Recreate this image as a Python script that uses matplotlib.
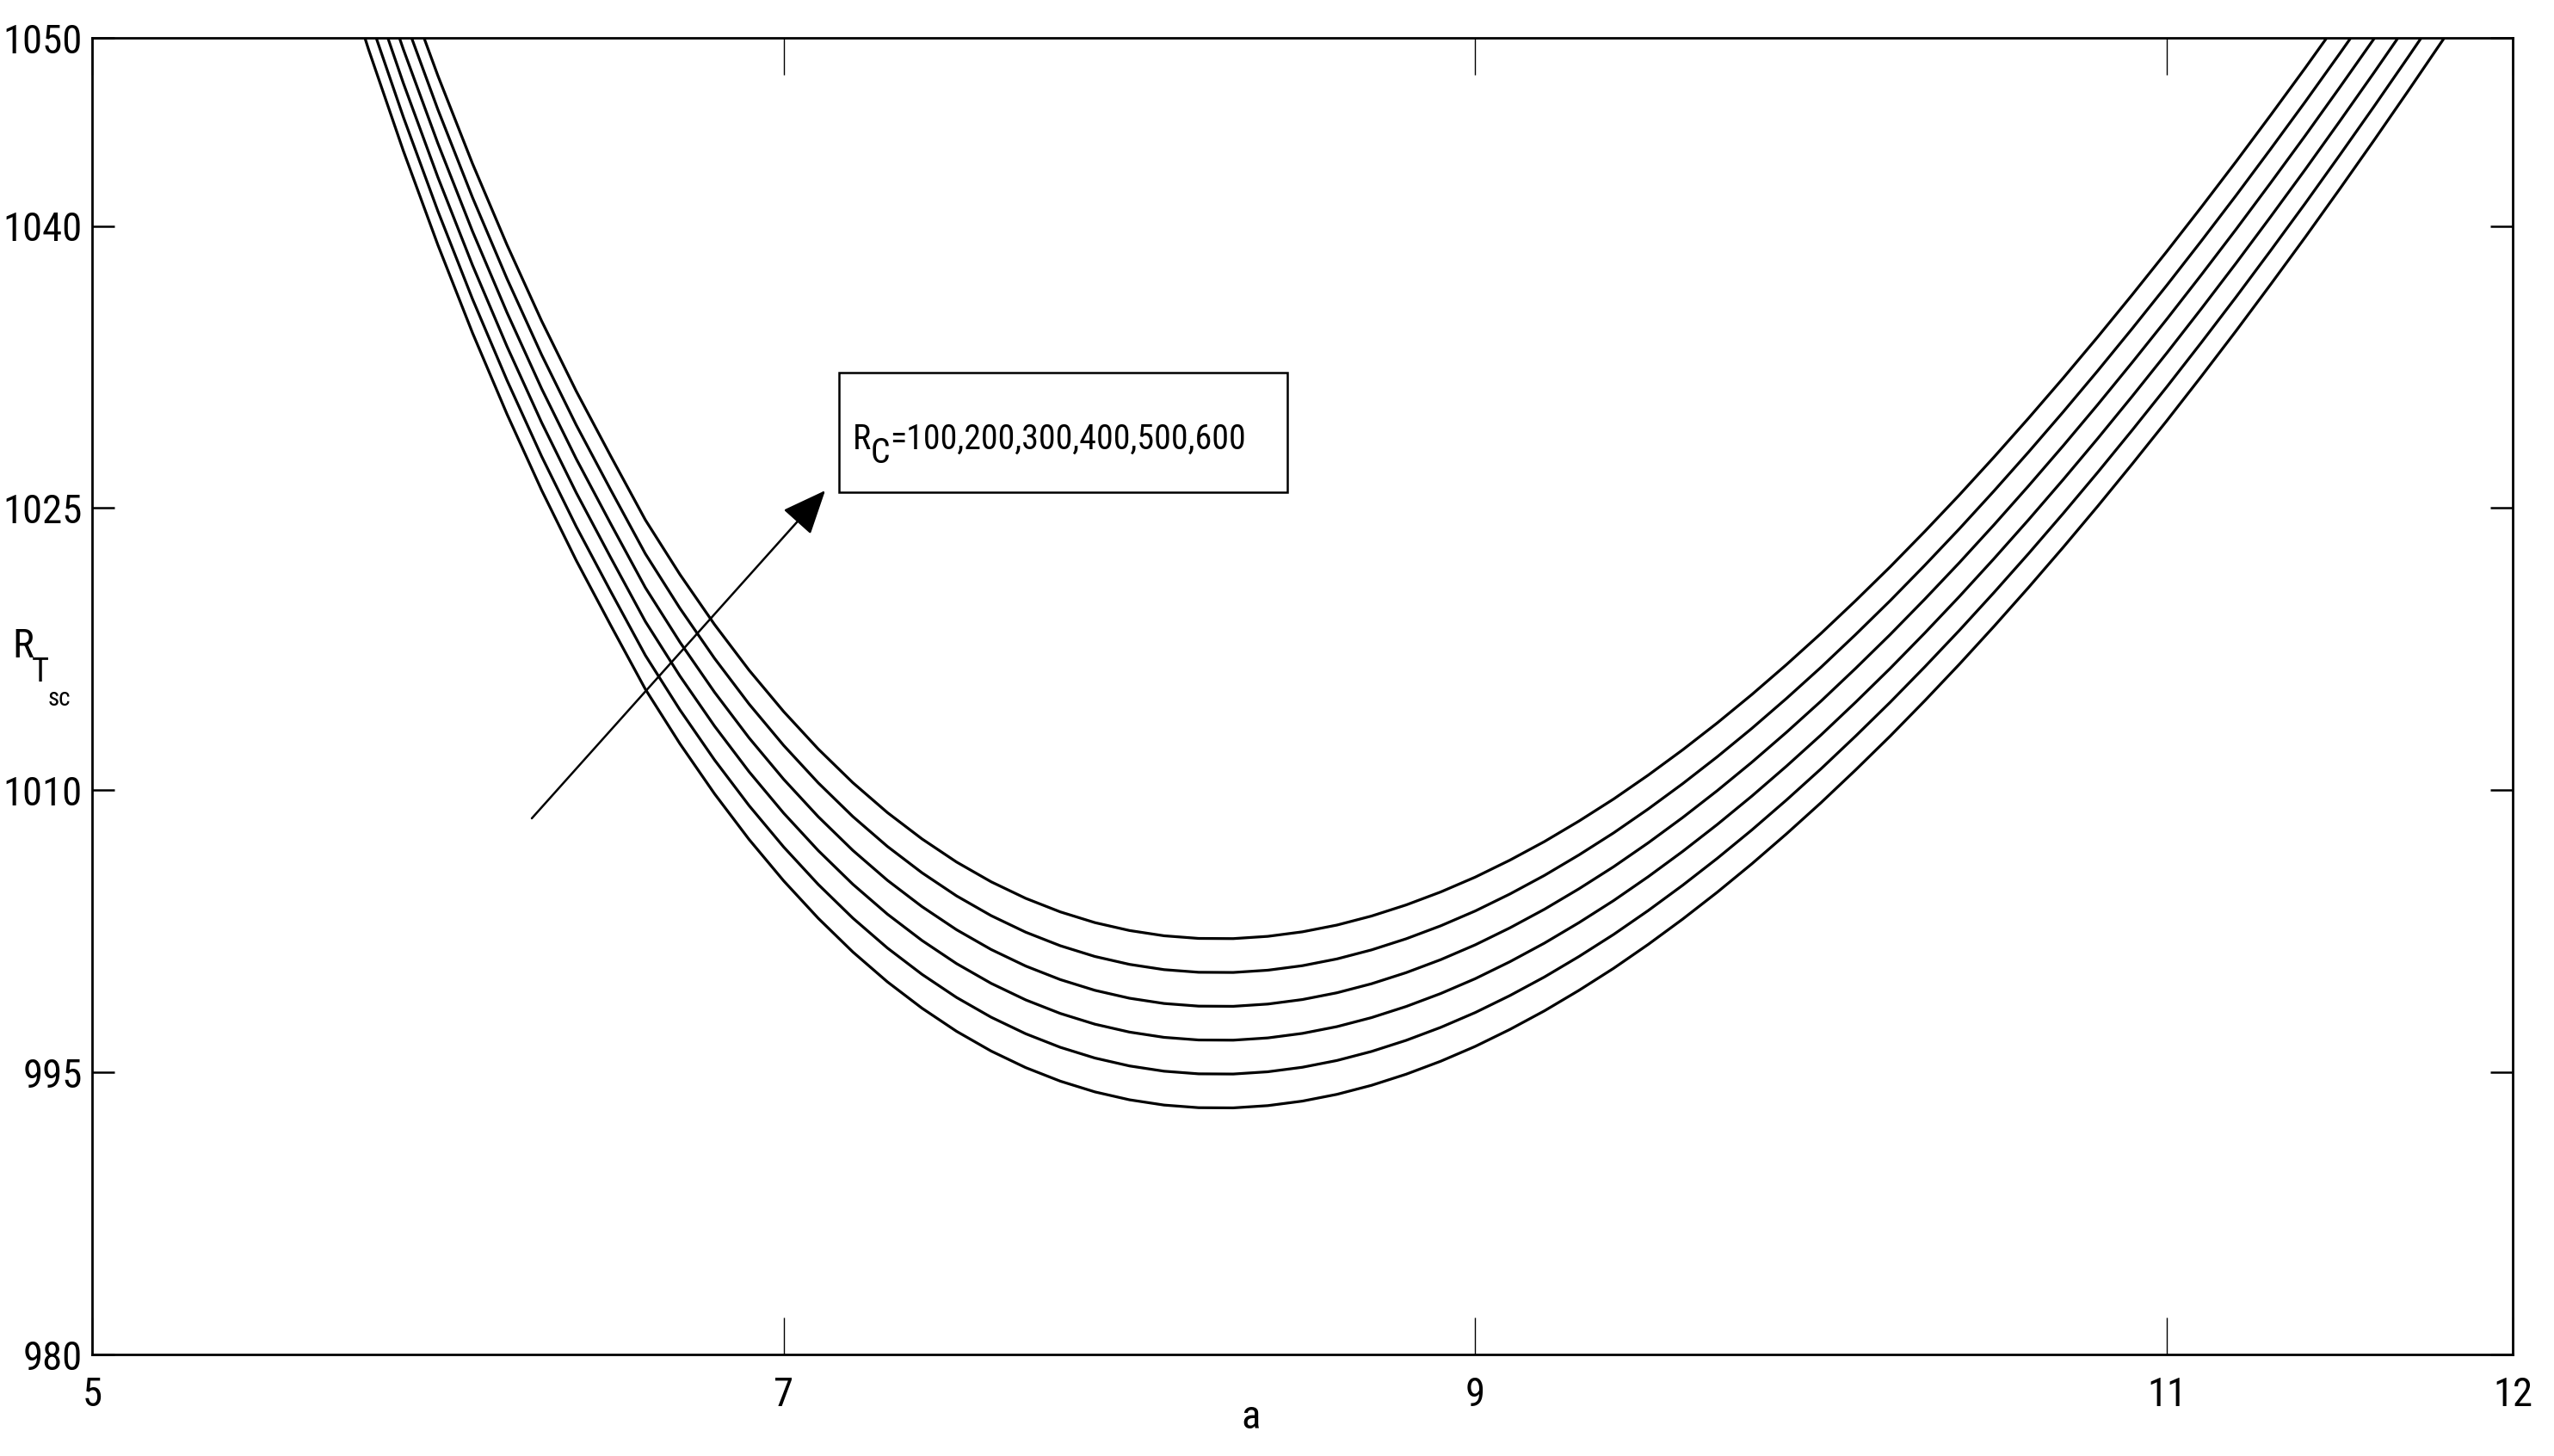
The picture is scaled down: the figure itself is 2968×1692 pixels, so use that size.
import os
import matplotlib
matplotlib.use("Agg")
import matplotlib.pyplot as plt
from matplotlib import font_manager as fm
from matplotlib.textpath import TextPath
from matplotlib.patches import Rectangle, FancyArrowPatch, ArrowStyle

# values (a on x, R_Tsc on y), one list per R_C
a_vals = [5.7, 5.8, 5.9, 6.0, 6.1, 6.2, 6.3, 6.4, 6.5, 6.6, 6.7, 6.8, 6.9, 7.0, 7.1, 7.2,
          7.3, 7.4, 7.5, 7.6, 7.7, 7.8, 7.9, 8.0, 8.1, 8.2, 8.3, 8.4, 8.5, 8.6, 8.7, 8.8,
          8.9, 9.0, 9.1, 9.2, 9.3, 9.4, 9.5, 9.6, 9.7, 9.8, 9.9, 10.0, 10.1, 10.2, 10.3,
          10.4, 10.5, 10.6, 10.7, 10.8, 10.9, 11.0, 11.1, 11.2, 11.3, 11.4, 11.5, 11.6,
          11.7, 11.8, 11.9]

rt_rc100 = [1055.11, 1049.36, 1044.00, 1038.99, 1034.32, 1029.99, 1025.95, 1022.22, 1018.76,
            1015.37, 1012.47, 1009.81, 1007.38, 1005.18, 1003.19, 1001.40, 999.81, 998.41,
            997.18, 996.13, 995.25, 994.53, 993.96, 993.54, 993.26, 993.12, 993.11, 993.23,
            993.47, 993.83, 994.31, 994.90, 995.59, 996.38, 997.28, 998.27, 999.36, 1000.53,
            1001.80, 1003.15, 1004.58, 1006.09, 1007.68, 1009.34, 1011.08, 1012.88, 1014.76,
            1016.70, 1018.71, 1020.78, 1022.91, 1025.10, 1027.35, 1029.65, 1032.01, 1034.42,
            1036.89, 1039.40, 1041.97, 1044.58, 1047.24, 1049.94, 1052.69]
rt_rc200 = [1056.91, 1051.16, 1045.80, 1040.79, 1036.12, 1031.79, 1027.75, 1024.02, 1020.56,
            1017.17, 1014.27, 1011.61, 1009.18, 1006.98, 1004.99, 1003.20, 1001.61, 1000.21,
            998.98, 997.93, 997.05, 996.33, 995.76, 995.34, 995.06, 994.92, 994.91, 995.03,
            995.27, 995.63, 996.11, 996.70, 997.39, 998.18, 999.08, 1000.07, 1001.16, 1002.33,
            1003.60, 1004.95, 1006.38, 1007.89, 1009.48, 1011.14, 1012.88, 1014.68, 1016.56,
            1018.50, 1020.51, 1022.58, 1024.71, 1026.90, 1029.15, 1031.45, 1033.81, 1036.22,
            1038.69, 1041.20, 1043.77, 1046.38, 1049.04, 1051.74, 1054.49]
rt_rc300 = [1058.71, 1052.96, 1047.60, 1042.59, 1037.92, 1033.59, 1029.55, 1025.82, 1022.36,
            1018.97, 1016.07, 1013.41, 1010.98, 1008.78, 1006.79, 1005.00, 1003.41, 1002.01,
            1000.78, 999.73, 998.85, 998.13, 997.56, 997.14, 996.86, 996.72, 996.71, 996.83,
            997.07, 997.43, 997.91, 998.50, 999.19, 999.98, 1000.88, 1001.87, 1002.96, 1004.13,
            1005.40, 1006.75, 1008.18, 1009.69, 1011.28, 1012.94, 1014.68, 1016.48, 1018.36,
            1020.30, 1022.31, 1024.38, 1026.51, 1028.70, 1030.95, 1033.25, 1035.61, 1038.02,
            1040.49, 1043.00, 1045.57, 1048.18, 1050.84, 1053.54, 1056.29]
rt_rc400 = [1060.51, 1054.76, 1049.40, 1044.39, 1039.72, 1035.39, 1031.35, 1027.62, 1024.16,
            1020.77, 1017.87, 1015.21, 1012.78, 1010.58, 1008.59, 1006.80, 1005.21, 1003.81,
            1002.58, 1001.53, 1000.65, 999.93, 999.36, 998.94, 998.66, 998.52, 998.51, 998.63,
            998.87, 999.23, 999.71, 1000.30, 1000.99, 1001.78, 1002.68, 1003.67, 1004.76, 1005.93,
            1007.20, 1008.55, 1009.98, 1011.49, 1013.08, 1014.74, 1016.48, 1018.28, 1020.16,
            1022.10, 1024.11, 1026.18, 1028.31, 1030.50, 1032.75, 1035.05, 1037.41, 1039.82,
            1042.29, 1044.80, 1047.37, 1049.98, 1052.64, 1055.34, 1058.09]
rt_rc500 = [1062.31, 1056.56, 1051.20, 1046.19, 1041.52, 1037.19, 1033.15, 1029.42, 1025.96,
            1022.57, 1019.67, 1017.01, 1014.58, 1012.38, 1010.39, 1008.60, 1007.01, 1005.61,
            1004.38, 1003.33, 1002.45, 1001.73, 1001.16, 1000.74, 1000.46, 1000.32, 1000.31, 1000.43,
            1000.67, 1001.03, 1001.51, 1002.10, 1002.79, 1003.58, 1004.48, 1005.47, 1006.56, 1007.73,
            1009.00, 1010.35, 1011.78, 1013.29, 1014.88, 1016.54, 1018.28, 1020.08, 1021.96,
            1023.90, 1025.91, 1027.98, 1030.11, 1032.30, 1034.55, 1036.85, 1039.21, 1041.62,
            1044.09, 1046.60, 1049.17, 1051.78, 1054.44, 1057.14, 1059.89]
rt_rc600 = [1064.11, 1058.36, 1053.00, 1047.99, 1043.32, 1038.99, 1034.95, 1031.22, 1027.76,
            1024.37, 1021.47, 1018.81, 1016.38, 1014.18, 1012.19, 1010.40, 1008.81, 1007.41,
            1006.18, 1005.13, 1004.25, 1003.53, 1002.96, 1002.54, 1002.26, 1002.12, 1002.11, 1002.23,
            1002.47, 1002.83, 1003.31, 1003.90, 1004.59, 1005.38, 1006.28, 1007.27, 1008.36, 1009.53,
            1010.80, 1012.15, 1013.58, 1015.09, 1016.68, 1018.34, 1020.08, 1021.88, 1023.76,
            1025.70, 1027.71, 1029.78, 1031.91, 1034.10, 1036.35, 1038.65, 1041.01, 1043.42,
            1045.89, 1048.40, 1050.97, 1053.58, 1056.24, 1058.94, 1061.69]

x_ticks = [5, 7, 9, 11, 12]
y_ticks = [980, 995, 1010, 1025, 1040, 1050]
rc_label = '=100,200,300,400,500,600'

W, H = 2968, 1692
PX = 100 / 72  # pixels per point at dpi 100


def fprop(size, fname):
    fp = fm.FontProperties(fname=fname)
    fp.set_size(size)
    return fp


def ink(s, fname, size=100):
    # width, height of the drawn glyphs in pixels
    bb = TextPath((0, 0), s, size=size, prop=fm.FontProperties(fname=fname)).get_extents()
    return bb.width * PX, bb.height * PX


# the reference uses a narrow sans font (Helvetica squeezed); pick the narrowest
# narrow/condensed sans face that is installed, or fall back to Liberation Sans
families = ('Liberation Sans', 'Arial', 'Nimbus Sans', 'Noto Sans', 'DejaVu Sans',
            'Roboto', 'Open Sans')
extra_ok = {'', 'Narrow', 'Condensed', 'ExtraCondensed', 'SemiCondensed', 'Display', 'Cond'}
skip = ('bold', 'italic', 'oblique', 'light', 'thin', 'black', 'medium', 'heavy',
        'mono', 'serif')
cands = set()
for f in fm.fontManager.ttflist:
    base = os.path.basename(f.fname).lower()
    if not any(k in base for k in ('narrow', 'condens')) or any(k in base for k in skip):
        continue
    for fam in families:
        if f.name.startswith(fam) and set(f.name[len(fam):].split()) <= extra_ok:
            cands.add(f.fname)
cands.add(fm.findfont('Liberation Sans'))


def aspect(fn):
    w, h = ink('1050', fn)
    return w / h


font_file = min(sorted(cands), key=aspect)

# sizes: "1050" is about 38 px tall and should stay under ~86 px wide,
# the box label "=100,...,600" is about 380 px wide (allow a little more)
w1050, h1050 = ink('1050', font_file)
fs = min(100 * 38 / h1050, 100 * 86 / w1050)
fs_box = min(fs, 100 * 408 / ink(rc_label, font_file)[0])

fig = plt.figure(figsize=(W / 100, H / 100), dpi=100)
ax = fig.add_axes([107 / W, 1 - 1574 / H, 2813 / W, 1530 / H])

for series in [rt_rc100, rt_rc200, rt_rc300, rt_rc400, rt_rc500, rt_rc600]:
    ax.plot(a_vals, series, color='black', lw=2.3)

ax.set_xlim(5, 12)
ax.set_ylim(980, 1050)
ax.set_xticks(x_ticks)
ax.set_yticks(y_ticks)
ax.tick_params(direction='in', top=True, right=True)
ax.tick_params(axis='x', length=31, width=1.0, pad=18)
ax.tick_params(axis='y', length=19, width=1.8, pad=8)
for lbl in ax.get_xticklabels() + ax.get_yticklabels():
    lbl.set_fontproperties(fprop(fs, font_file))
for sp in ax.spines.values():
    sp.set_linewidth(2.0)

ax.set_xlabel('a', fontproperties=fprop(fs, font_file))
ax.xaxis.set_label_coords((1454 - 107) / 2813, -(1660 - 1574) / 1530)
ax.xaxis.label.set_va('baseline')


def put(px, py, s, size):
    fig.text(px / W, 1 - py / H, s, fontproperties=fprop(size, font_file),
             ha='left', va='baseline')
    return px + ink(s, font_file, size)[0]


# y label R_T_sc, pieces set one after the other
x_next = put(14, 764, 'R', fs)
x_next = put(x_next + 2, 792, 'T', fs * 0.82)
put(x_next + 1, 820, 'sc', fs * 0.62)

# annotation box, its label and the arrow
ax.add_patch(Rectangle(((975 - 107) / 2813, 1 - (572 - 44) / 1530), 521 / 2813, 139 / 1530,
                       transform=ax.transAxes, fill=False, edgecolor='black', lw=1.8,
                       clip_on=False))
x_next = put(991, 522, 'R', fs_box)
x_next = put(x_next + 3, 538, 'C', fs_box)
put(x_next + 4, 522, rc_label, fs_box)

arrow = FancyArrowPatch(((618 - 107) / 2813, 1 - (951 - 44) / 1530),
                        ((959 - 107) / 2813, 1 - (570 - 44) / 1530),
                        transform=ax.transAxes,
                        arrowstyle=ArrowStyle('-|>', head_length=0.4, head_width=0.17),
                        mutation_scale=80, color='black', lw=1.8, shrinkA=0, shrinkB=0)
ax.add_patch(arrow)

fig.savefig('out.png', dpi=100)
